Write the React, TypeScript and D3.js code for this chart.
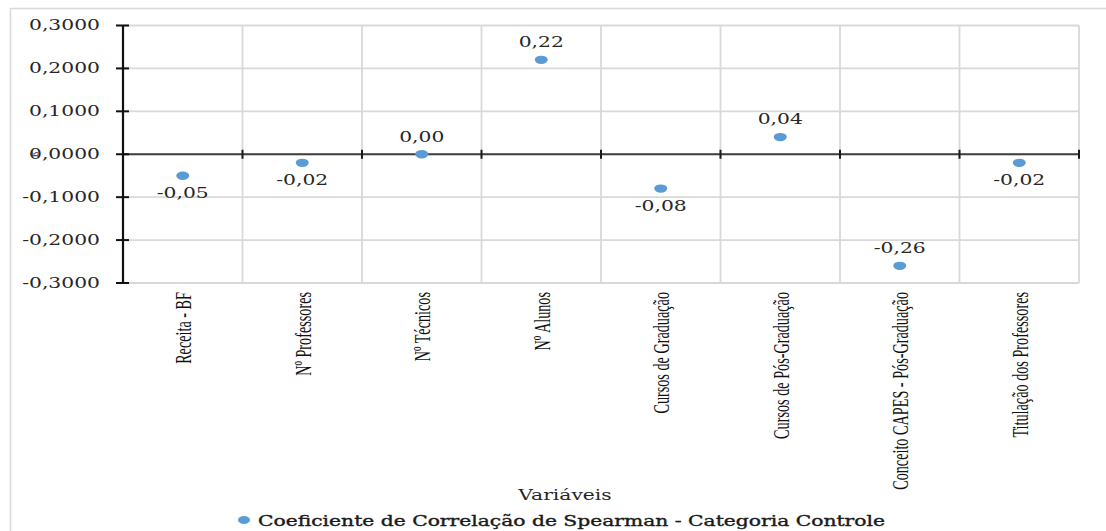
import React from "react";
import * as d3 from "d3";

// Spearman correlation by variable (category "Controle")
const categories = [
  "Receita - BF",
  "Nº Professores",
  "Nº Técnicos",
  "Nº Alunos",
  "Cursos de Graduação",
  "Cursos de Pós-Graduação",
  "Conceito CAPES - Pós-Graduação",
  "Titulação dos Professores",
];
const values = [-0.05, -0.02, 0.0, 0.22, -0.08, 0.04, -0.26, -0.02];
// where each value label sits relative to its point
const labelSide = ["below", "below", "above", "above", "below", "above", "above", "below"];
const yTicks = [0.3, 0.2, 0.1, 0, -0.1, -0.2, -0.3];
const seriesName = "Coeficiente de Correlação de Spearman - Categoria Controle";
const xTitle = "Variáveis";

const W = 1106;
const H = 531;
const plot = { left: 123, right: 1079, top: 25.5, bottom: 283 };

const numFont = "'DejaVu Serif', serif";
const catFont = "'Liberation Serif', 'Times New Roman', serif";
const SX = 1.45; // horizontal stretch of the numeric/serif labels
const blue = "#5B9BD5";
const grid = "#D9D9D9";

const fmt = (v: number, d: number) => {
  const s = Math.abs(v).toFixed(d).replace(".", ",");
  return (v < -1e-9 && Math.abs(v).toFixed(d) !== (0).toFixed(d) ? "-" : "") + s;
};

function Wide({ x, y, anchor, size, children, fill = "#262626", weight = 400, length, stroke }: any) {
  return (
    <g transform={`translate(${x},${y}) scale(${SX},1)`}>
      <text
        x={0}
        y={0}
        dy="0.35em"
        textAnchor={anchor}
        fontFamily={numFont}
        fontSize={size}
        fontWeight={weight}
        fill={fill}
        stroke={stroke}
        strokeWidth={stroke ? 0.35 : undefined}
        textLength={length ? length / SX : undefined}
        lengthAdjust={length ? "spacingAndGlyphs" : undefined}
      >
        {children}
      </text>
    </g>
  );
}

export default function App() {
  const x = d3.scaleBand<string>().domain(categories).range([plot.left, plot.right]).padding(0);
  const y = d3.scaleLinear().domain([-0.3, 0.3]).range([plot.bottom, plot.top]);
  const bounds = d3.range(categories.length + 1).map((i) => plot.left + i * x.step());
  const y0 = y(0);

  return (
    <svg
      width={W}
      height={H}
      style={{ position: "absolute", left: 0, top: 0, background: "#fff" }}
    >
      {/* chart frame */}
      <rect x={10.5} y={8.5} width={1110} height={540} fill="#fff" stroke={grid} strokeWidth={1.5} />

      {/* gridlines */}
      {yTicks.map((t) => (
        <line key={"h" + t} x1={plot.left} x2={plot.right} y1={y(t)} y2={y(t)} stroke={grid} strokeWidth={1.8} />
      ))}
      {bounds.map((b, i) => (
        <line key={"v" + i} x1={b} x2={b} y1={plot.top} y2={plot.bottom} stroke={grid} strokeWidth={1.8} />
      ))}

      {/* horizontal axis through zero */}
      <line x1={plot.left} x2={plot.right + 1} y1={y0} y2={y0} stroke="#404040" strokeWidth={2} />
      {bounds.slice(1).map((b, i) => (
        <line key={"xt" + i} x1={b} x2={b} y1={y0 - 4.5} y2={y0 + 4.5} stroke="#1a1a1a" strokeWidth={2} />
      ))}

      {/* vertical axis */}
      <line x1={plot.left} x2={plot.left} y1={plot.top} y2={plot.bottom} stroke="#111" strokeWidth={2.2} />
      {yTicks.map((t) => (
        <line key={"yt" + t} x1={plot.left - 7} x2={plot.left + 6} y1={y(t)} y2={y(t)} stroke="#111" strokeWidth={2} />
      ))}
      {yTicks.map((t) => (
        <Wide key={"yl" + t} x={100} y={y(t)} anchor="end" size={14}>
          {fmt(t, 4)}
        </Wide>
      ))}
      <text
        transform={`translate(34,${y0}) rotate(-90)`}
        textAnchor="middle"
        dy="0.35em"
        fontFamily={catFont}
        fontSize={11}
        fill="#333"
      >
        ß
      </text>

      {/* points and value labels */}
      {values.map((v, i) => {
        const cx = x(categories[i])! + x.bandwidth() / 2;
        const cy = y(v);
        const ly = labelSide[i] === "above" ? cy - 17.5 : cy + 17.5;
        return (
          <g key={"p" + i}>
            <ellipse cx={cx} cy={cy} rx={6.5} ry={4.2} fill={blue} />
            <Wide x={cx} y={ly} anchor="middle" size={14}>
              {fmt(v, 2)}
            </Wide>
          </g>
        );
      })}

      {/* category labels */}
      {categories.map((c) => {
        const cx = x(c)! + x.bandwidth() / 2 + 1;
        return (
          <g key={"c" + c} transform={`translate(${cx},292) rotate(-90) scale(0.79,1.3)`}>
            <text x={0} y={0} dy="0.33em" textAnchor="end" fontFamily={catFont} fontSize={18} fill="#111">
              {c}
            </text>
          </g>
        );
      })}

      {/* axis title */}
      <Wide x={565} y={495} anchor="middle" size={14}>
        {xTitle}
      </Wide>

      {/* legend */}
      <ellipse cx={244} cy={520} rx={6} ry={4} fill={blue} />
      <Wide x={258} y={521} anchor="start" size={14} fill="#1a1a1a" stroke="#1a1a1a" length={627}>
        {seriesName}
      </Wide>
    </svg>
  );
}
